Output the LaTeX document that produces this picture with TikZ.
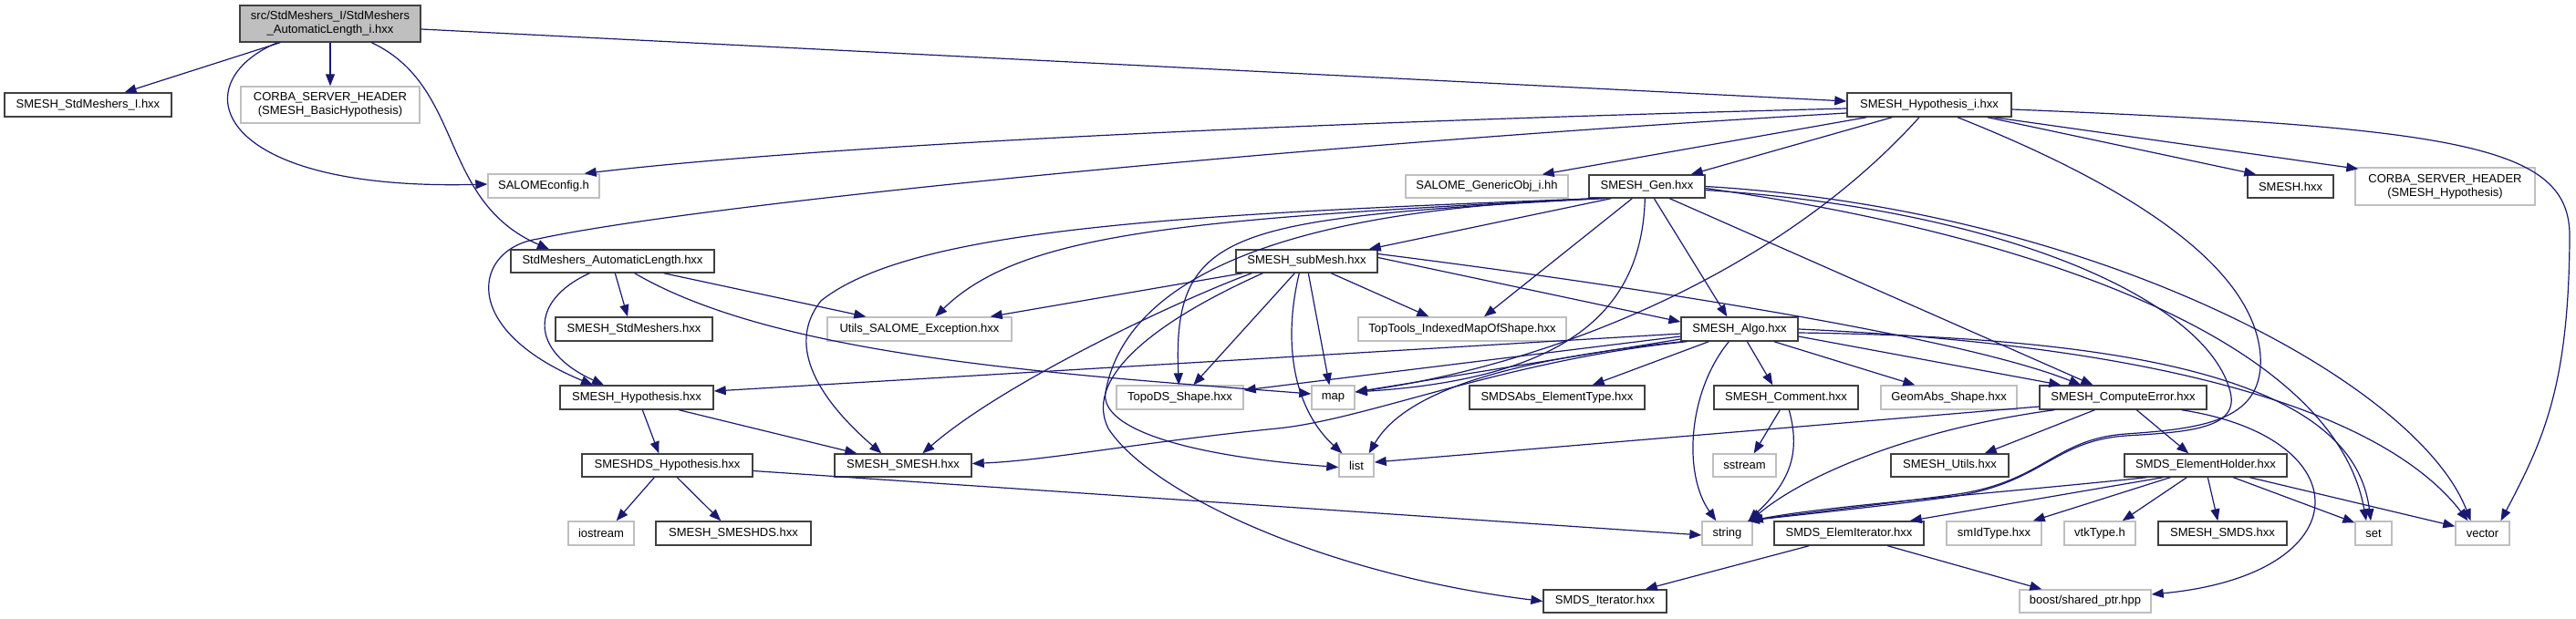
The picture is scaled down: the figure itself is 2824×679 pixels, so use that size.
\documentclass[tikz,border=0pt]{standalone}
\usepackage{fontspec}
\setmainfont{Liberation Sans}
\usetikzlibrary{arrows.meta}
\definecolor{edgeblue}{HTML}{191970}
\definecolor{boxdark}{HTML}{404040}
\definecolor{boxgray}{HTML}{BFBFBF}
\newcommand\bx[7]{\node[#6, minimum width={(#4-#2)*0.5pt}, minimum height={(#5-#3)*0.5pt}] (#1) at ({(#2+#4)/2},{(#3+#5)/2}) {#7};}
\tikzset{
  fbox/.style={draw=boxdark, line width=0.7pt, fill=white, inner sep=0pt, align=center, font=\fontsize{6.5}{7.5}\selectfont},
  gbox/.style={fbox, draw=boxgray},
  rbox/.style={fbox, fill=boxgray},
  e/.style={draw=edgeblue, line width=0.6pt, -{Triangle[length=6.5pt,width=5pt]}}
}
\begin{document}
\begin{tikzpicture}[x=0.5pt,y=-0.5pt]
\fill[white] (0,0) rectangle (2824,679);
\useasboundingbox (0,0) rectangle (2824,679);
% nodes
\bx{root}{263}{6}{461}{46}{rbox}{src/StdMeshers\_I/StdMeshers\\\_AutomaticLength\_i.hxx}
\bx{SI}{5}{102}{188}{128}{fbox}{SMESH\_StdMeshers\_I.hxx}
\bx{CB}{264}{95}{460}{135}{gbox}{CORBA\_SERVER\_HEADER\\(SMESH\_BasicHypothesis)}
\bx{SC}{535}{191}{657}{217}{gbox}{SALOMEconfig.h}
\bx{AL}{560}{274}{783}{299}{fbox}{StdMeshers\_AutomaticLength.hxx}
\bx{HI}{2025}{102}{2205}{128}{fbox}{SMESH\_Hypothesis\_i.hxx}
\bx{GO}{1541}{192}{1719}{217}{gbox}{SALOME\_GenericObj\_i.hh}
\bx{Gen}{1742}{192}{1869}{217}{fbox}{SMESH\_Gen.hxx}
\bx{SX}{2464}{192}{2558}{217}{fbox}{SMESH.hxx}
\bx{CH}{2582}{184}{2779}{225}{gbox}{CORBA\_SERVER\_HEADER\\(SMESH\_Hypothesis)}
\bx{sub}{1355}{274}{1510}{299}{fbox}{SMESH\_subMesh.hxx}
\bx{SM}{609}{348}{781}{374}{fbox}{SMESH\_StdMeshers.hxx}
\bx{UE}{907}{348}{1109}{374}{gbox}{Utils\_SALOME\_Exception.hxx}
\bx{TT}{1489}{348}{1717}{374}{gbox}{TopTools\_IndexedMapOfShape.hxx}
\bx{Algo}{1843}{348}{1971}{374}{fbox}{SMESH\_Algo.hxx}
\bx{SH}{614}{423}{782}{449}{fbox}{SMESH\_Hypothesis.hxx}
\bx{TD}{1224}{423}{1363}{449}{gbox}{TopoDS\_Shape.hxx}
\bx{nmap}{1438}{423}{1485}{449}{gbox}{map}
\bx{ET}{1611}{423}{1803}{449}{fbox}{SMDSAbs\_ElementType.hxx}
\bx{CM}{1879}{423}{2037}{449}{fbox}{SMESH\_Comment.hxx}
\bx{GA}{2062}{423}{2211}{449}{gbox}{GeomAbs\_Shape.hxx}
\bx{CE}{2236}{423}{2419}{449}{fbox}{SMESH\_ComputeError.hxx}
\bx{SDH}{638}{498}{825}{523}{fbox}{SMESHDS\_Hypothesis.hxx}
\bx{SS}{915}{498}{1065}{523}{fbox}{SMESH\_SMESH.hxx}
\bx{nlist}{1468}{498}{1506}{523}{gbox}{list}
\bx{sst}{1878}{498}{1947}{523}{gbox}{sstream}
\bx{SU}{2073}{498}{2202}{523}{fbox}{SMESH\_Utils.hxx}
\bx{EH}{2329}{498}{2507}{523}{fbox}{SMDS\_ElementHolder.hxx}
\bx{ios}{623}{572}{695}{598}{gbox}{iostream}
\bx{SSD}{719}{572}{889}{598}{fbox}{SMESH\_SMESHDS.hxx}
\bx{nstr}{1866}{572}{1921}{598}{gbox}{string}
\bx{EI}{1945}{572}{2109}{598}{fbox}{SMDS\_ElemIterator.hxx}
\bx{sid}{2134}{572}{2238}{598}{gbox}{smIdType.hxx}
\bx{vtk}{2263}{572}{2341}{598}{gbox}{vtkType.h}
\bx{SMDS}{2366}{572}{2507}{598}{fbox}{SMESH\_SMDS.hxx}
\bx{nset}{2582}{572}{2622}{598}{gbox}{set}
\bx{vec}{2692}{572}{2751}{598}{gbox}{vector}
\bx{IT}{1692}{647}{1827}{672}{fbox}{SMDS\_Iterator.hxx}
\bx{boost}{2214}{647}{2358}{672}{gbox}{boost/shared\_ptr.hpp}
% root
\draw[e] ([xshift=22.5pt]root.south west) -- ([xshift=20pt]SI.north);
\draw[e] (root) -- (CB);
\draw[e] ([xshift=21pt]root.south west) .. controls (200,90) and (230,210) .. ([yshift=1pt]SC.west);
\draw[e] ([xshift=72.5pt]root.south west) .. controls (510,95) and (480,220) .. ([xshift=-34.75pt]AL.north);
\draw[e] ([yshift=-3pt]root.east) -- ([yshift=2pt]HI.west);
% AL
\draw[e] ([xshift=57.5pt]AL.south west) -- ([xshift=-3.5pt]SM.north);
\draw[e] ([xshift=43.5pt]AL.south west) .. controls (580,330) and (580,385) .. ([xshift=-18pt]SH.north);
\draw[e] ([xshift=-28pt]AL.south east) -- ([xshift=21.5pt]UE.north west);
\draw[e] ([xshift=-44pt]AL.south east) .. controls (850,390) and (1150,410) .. ([yshift=2pt]nmap.west);
% HI
\draw[e] ([yshift=-2pt]HI.west) .. controls (1400,135) and (900,160) .. ([xshift=-8.5pt]SC.north east);
\draw[e] ([yshift=-4.5pt]HI.west) .. controls (1400,160) and (760,225) .. (590,262) .. controls (520,272) and (500,360) .. ([xshift=-24pt]SH.north);
\draw[e] ([xshift=11pt]HI.south west) -- ([xshift=-14.5pt]GO.north east);
\draw[e] ([xshift=25pt]HI.south west) -- ([xshift=-8pt]Gen.north east);
\draw[e] ([xshift=-13.5pt]HI.south east) -- ([xshift=5pt]SX.north west);
\draw[e] ([xshift=-10pt]HI.south east) -- ([xshift=2pt,yshift=-1pt]CH.north west);
\draw[e] ([yshift=-2.5pt]HI.east) .. controls (2700,140) and (2818,160) .. (2817,260) .. controls (2816,420) and (2790,480) .. ([xshift=10pt]vec.north);
\draw[e] ([xshift=-5.5pt]HI.south) .. controls (1950,300) and (1700,400) .. ([yshift=3pt]nmap.east);
\draw[e] ([xshift=15.5pt]HI.south) .. controls (2300,190) and (2470,280) .. (2478,390) .. controls (2482,460) and (2420,470) .. (2330,476) .. controls (2250,482) and (2240,530) .. (2139,543) .. controls (2050,555) and (1960,565) .. ([xshift=-3pt]nstr.north east);
% Gen
\draw[e] ([xshift=12.5pt]Gen.south west) -- ([xshift=-5pt]sub.north east);
\draw[e] ([xshift=24pt]Gen.south west) -- ([xshift=12pt]TT.north);
\draw[e] ([xshift=36pt]Gen.south west) -- ([xshift=25.5pt]Algo.north west);
\draw[e] ([xshift=44.5pt]Gen.south west) -- ([xshift=29.5pt]CE.north west);
\draw[e] ([xshift=31pt]Gen.south west) .. controls (1800,340) and (1720,415) .. ([yshift=3pt]nmap.east);
\draw[e] ([xshift=5pt]Gen.south west) .. controls (1300,240) and (1120,255) .. ([xshift=59.5pt]UE.north west);
\draw[e] ([xshift=4pt]Gen.south west) .. controls (1300,235) and (1000,250) .. (900,330) .. controls (860,380) and (900,440) .. ([xshift=26pt]SS.north west);
\draw[e] ([xshift=7.5pt]Gen.south west) .. controls (1350,240) and (1285,250) .. ([xshift=34.5pt]TD.north west);
\draw[e] ([xshift=9pt]Gen.south west) .. controls (1350,230) and (1230,330) .. (1212,430) .. controls (1205,470) and (1300,500) .. ([yshift=-1pt]nlist.west);
\draw[e] ([yshift=-1pt]Gen.east) .. controls (2250,260) and (2560,380) .. ([xshift=-4pt]nset.north);
\draw[e] (Gen.east) .. controls (2300,230) and (2650,420) .. ([xshift=-6.5pt]vec.north);
\draw[e] ([yshift=-2pt]Gen.east) .. controls (2200,230) and (2420,330) .. (2445,430) .. controls (2455,470) and (2400,474) .. (2330,478) .. controls (2250,484) and (2240,530) .. (2139,545) .. controls (2050,557) and (1960,566) .. ([xshift=-3pt]nstr.north east);
% subMesh
\draw[e] ([xshift=4pt]sub.south west) -- ([xshift=-12pt]UE.north east);
\draw[e] ([xshift=9pt]sub.south west) .. controls (1290,330) and (1100,420) .. ([xshift=48.5pt]SS.north west);
\draw[e] ([xshift=32.5pt]sub.south west) -- ([xshift=42.5pt]TD.north west);
\draw[e] ([xshift=15pt]sub.south west) .. controls (1250,360) and (1190,420) .. (1215,470) .. controls (1260,540) and (1450,630) .. (IT.west);
\draw[e] ([xshift=52.5pt]sub.south west) -- ([xshift=39pt]TT.north west);
\draw[e] ([xshift=40pt]sub.south west) -- ([xshift=10pt]nmap.north west);
\draw[e] ([xshift=35pt]sub.south west) .. controls (1405,380) and (1420,450) .. ([xshift=2pt]nlist.north west);
\draw[e] ([yshift=2pt]sub.east) -- ([yshift=4pt]Algo.west);
\draw[e] ([yshift=4pt]sub.east) .. controls (1800,315) and (2150,370) .. ([xshift=23pt]CE.north west);
% Algo
\draw[e] ([yshift=-2.5pt]Algo.west) -- ([yshift=3.5pt]SH.east);
\draw[e] ([yshift=-4pt]Algo.west) -- ([yshift=4pt]TD.east);
\draw[e] ([yshift=-5.5pt]Algo.west) -- ([yshift=3pt]nmap.east);
\draw[e] ([xshift=3.5pt]Algo.south west) .. controls (1650,395) and (1500,460) .. (1400,470) .. controls (1250,485) and (1150,505) .. ([yshift=1pt]SS.east);
\draw[e] ([xshift=1pt]Algo.south west) .. controls (1650,395) and (1540,430) .. ([xshift=-3pt]nlist.north east);
\draw[e] ([xshift=15.5pt]Algo.south west) -- ([xshift=-29pt]ET.north east);
\draw[e] ([xshift=36.5pt]Algo.south west) -- ([xshift=32.5pt]CM.north west);
\draw[e] ([xshift=26.5pt]Algo.south west) .. controls (1850,430) and (1845,520) .. ([xshift=8pt]nstr.north west);
\draw[e] ([xshift=-13.5pt]Algo.south east) -- ([xshift=19pt]GA.north west);
\draw[e] ([yshift=-4pt]Algo.east) -- ([xshift=12pt]CE.north west);
\draw[e] ([yshift=-2pt]Algo.east) .. controls (2350,370) and (2580,420) .. ([xshift=-1.5pt]nset.north);
\draw[e] (Algo.east) .. controls (2400,380) and (2620,460) .. ([xshift=-8pt]vec.north);
% SMESH_Hypothesis, SMESHDS_Hypothesis, Comment
\draw[e] ([xshift=45.5pt]SH.south west) -- ([xshift=42.5pt]SDH.north west);
\draw[e] ([xshift=65.5pt]SH.south west) -- ([xshift=12.5pt]SS.north west);
\draw[e] ([xshift=40pt]SDH.south west) -- ([xshift=-10pt]ios.north east);
\draw[e] ([xshift=52.5pt]SDH.south west) -- ([xshift=36pt]SSD.north west);
\draw[e] ([yshift=-3pt]SDH.east) -- ([yshift=-1pt]nstr.west);
\draw[e] ([xshift=36.5pt]CM.south west) -- ([xshift=-12.5pt]sst.north east);
\draw[e] ([xshift=41.5pt]CM.south west) .. controls (1975,500) and (1960,530) .. ([xshift=-2.5pt]nstr.north east);
% ComputeError
\draw[e] ([yshift=-5pt]CE.west) -- ([yshift=1.75pt]nlist.east);
\draw[e] ([xshift=8.5pt]CE.south west) .. controls (2100,470) and (1980,520) .. ([xshift=-1.5pt]nstr.north east);
\draw[e] ([xshift=30.5pt]CE.south west) -- ([xshift=-13.5pt]SU.north east);
\draw[e] ([xshift=53.5pt]CE.south west) -- ([xshift=35.5pt]EH.north west);
\draw[e] ([xshift=-14pt]CE.south east) .. controls (2590,480) and (2590,630) .. ([yshift=3.75pt]boost.east);
% ElementHolder
\draw[e] ([xshift=12.5pt]EH.south west) .. controls (2200,540) and (2000,555) .. ([xshift=-1pt]nstr.north east);
\draw[e] ([xshift=21.5pt]EH.south west) -- ([xshift=-8pt]EI.north east);
\draw[e] ([xshift=25.5pt]EH.south west) -- ([xshift=-5pt]sid.north east);
\draw[e] ([xshift=34.5pt]EH.south west) -- ([xshift=-7.5pt]vtk.north east);
\draw[e] ([xshift=46pt]EH.south west) -- ([xshift=33pt]SMDS.north west);
\draw[e] ([xshift=60pt]EH.south west) -- ([yshift=-1pt]nset.north west);
\draw[e] ([xshift=69pt]EH.south west) -- ([yshift=-3pt]vec.north west);
% ElemIterator
\draw[e] ([xshift=19.5pt]EI.south west) -- ([xshift=-12pt]IT.north east);
\draw[e] ([xshift=62.5pt]EI.south west) -- ([xshift=12.5pt]boost.north west);
\end{tikzpicture}
\end{document}
